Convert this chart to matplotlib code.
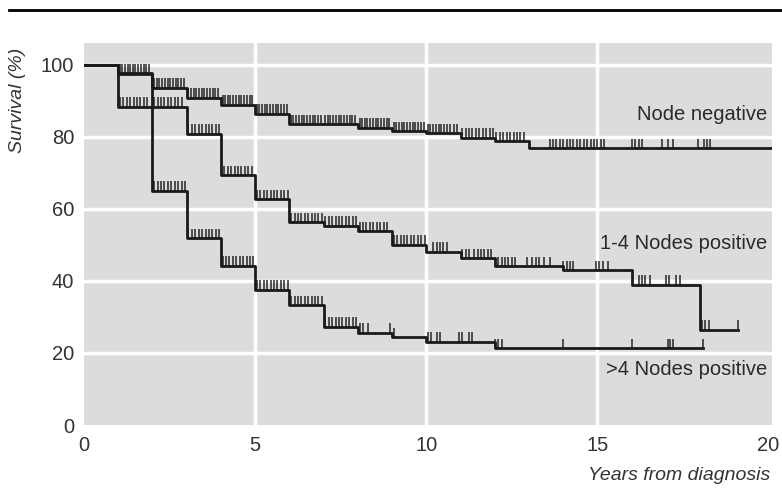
import matplotlib.pyplot as plt
from matplotlib.lines import Line2D
import numpy as np

plt.rcParams['font.family'] = ['Liberation Sans Narrow', 'Liberation Sans', 'DejaVu Sans']

# Kaplan-Meier steps (years, survival %)
neg_t = [0, 1, 2, 3, 4, 5, 6, 8, 9, 10, 11, 12, 13]
neg_s = [100, 97.7, 93.6, 90.8, 88.9, 86.4, 83.4, 82.5, 81.6, 81.0, 79.7, 78.7, 76.8]
neg_end = 20.1

pos14_t = [0, 1, 2, 3, 4, 5, 6, 7, 8, 9, 10, 11, 12, 14, 16, 18]
pos14_s = [100, 97.5, 88.3, 80.8, 69.4, 62.7, 56.2, 55.3, 53.8, 50.0, 48.1, 46.3, 44.0, 42.9, 38.9, 26.4]
pos14_end = 19.1

pos4_t = [0, 1, 2, 3, 4, 5, 6, 7, 8, 9, 10, 12]
pos4_s = [100, 88.3, 65.0, 51.9, 44.2, 37.5, 33.3, 27.3, 25.6, 24.4, 23.1, 21.3]
pos4_end = 18.07

# censored observations (years)
neg_cens = [1.05, 1.12, 1.2, 1.28, 1.35, 1.42, 1.5, 1.58, 1.66, 1.74, 1.82, 1.9,
            2.05, 2.12, 2.2, 2.28, 2.36, 2.44, 2.52, 2.6, 2.68, 2.76, 2.84, 2.92,
            3.05, 3.12, 3.2, 3.28, 3.36, 3.44, 3.52, 3.6, 3.68, 3.76, 3.84, 3.92,
            4.05, 4.12, 4.2, 4.28, 4.36, 4.44, 4.52, 4.6, 4.68, 4.76, 4.84, 4.92,
            5.05, 5.12, 5.2, 5.28, 5.36, 5.44, 5.52, 5.6, 5.68, 5.76, 5.84, 5.92,
            6.05, 6.12, 6.2, 6.28, 6.36, 6.44, 6.52, 6.6, 6.68, 6.76, 6.84, 6.92,
            7.05, 7.12, 7.2, 7.28, 7.36, 7.44, 7.52, 7.6, 7.68, 7.76, 7.84, 7.92,
            8.05, 8.12, 8.2, 8.28, 8.36, 8.44, 8.52, 8.6, 8.68, 8.76, 8.84, 8.92,
            9.05, 9.12, 9.2, 9.28, 9.36, 9.44, 9.52, 9.6, 9.68, 9.76, 9.84, 9.92,
            10.05, 10.12, 10.2, 10.28, 10.36, 10.44, 10.52, 10.6, 10.7, 10.8, 10.9,
            11.05, 11.15, 11.25, 11.35, 11.45, 11.55, 11.65, 11.75, 11.85, 11.95,
            12.05, 12.15, 12.25, 12.35, 12.45, 12.55, 12.65, 12.75, 12.85,
            13.6, 13.7, 13.8, 13.9, 14.0, 14.1, 14.2, 14.3, 14.4, 14.5, 14.6, 14.7,
            14.8, 14.9, 15.0, 15.1, 15.2,
            16.0, 16.1, 16.2, 16.3, 16.9, 17.05, 17.2, 17.95, 18.1, 18.2, 18.3]

pos14_cens = [2.05, 2.15, 2.25, 2.35, 2.45, 2.55, 2.65, 2.75, 2.85,
              3.05, 3.15, 3.25, 3.35, 3.45, 3.55, 3.65, 3.75, 3.85, 3.95,
              4.1, 4.2, 4.3, 4.4, 4.5, 4.6, 4.7, 4.8, 4.9,
              5.05, 5.15, 5.25, 5.35, 5.45, 5.55, 5.65, 5.75, 5.85, 5.95,
              6.05, 6.15, 6.25, 6.35, 6.45, 6.55, 6.65, 6.75, 6.85, 6.95,
              7.05, 7.15, 7.25, 7.35, 7.45, 7.55, 7.65, 7.75, 7.85, 7.95,
              8.05, 8.15, 8.25, 8.35, 8.45, 8.55, 8.65, 8.75, 8.85,
              9.05, 9.15, 9.25, 9.35, 9.45, 9.55, 9.65, 9.75, 9.85, 9.95,
              10.2, 10.3, 10.4, 10.5, 10.6,
              11.05, 11.15, 11.25, 11.4, 11.5, 11.6, 11.7, 11.8, 11.9,
              12.1, 12.2, 12.3, 12.4, 12.5, 12.6, 12.95, 13.1, 13.2, 13.3, 13.45, 13.6,
              14.0, 14.1, 14.2, 14.3, 14.95, 15.05, 15.15, 15.3,
              16.2, 16.3, 16.4, 16.55, 17.0, 17.1, 17.3, 17.4,
              18.05, 18.15, 18.25, 19.1]

pos4_cens = [1.05, 1.15, 1.25, 1.35, 1.45, 1.55, 1.65, 1.75, 1.85,
             2.05, 2.15, 2.25, 2.35, 2.45, 2.55, 2.65, 2.75, 2.85, 2.95,
             3.05, 3.15, 3.25, 3.35, 3.45, 3.55, 3.65, 3.75, 3.85, 3.95,
             4.05, 4.15, 4.25, 4.35, 4.45, 4.55, 4.65, 4.75, 4.85, 4.95,
             5.05, 5.15, 5.25, 5.35, 5.45, 5.55, 5.65, 5.75, 5.85, 5.95,
             6.05, 6.15, 6.25, 6.35, 6.45, 6.55, 6.65, 6.75, 6.85, 6.95,
             7.05, 7.15, 7.25, 7.35, 7.45, 7.55, 7.65, 7.75, 7.85, 7.95,
             8.05, 8.15, 8.3, 8.95, 9.05,
             10.05, 10.15, 10.3, 10.4, 10.95, 11.05, 11.25, 11.35,
             12.0, 12.1, 12.2, 14.0, 16.0, 17.05, 17.12, 17.2, 18.07]

labels = ["Node negative", "1-4 Nodes positive", ">4 Nodes positive"]
label_y = [86.1, 50.5, 15.3]

curves = [(neg_t, neg_s, neg_end, neg_cens),
          (pos14_t, pos14_s, pos14_end, pos14_cens),
          (pos4_t, pos4_s, pos4_end, pos4_cens)]

fig = plt.figure(figsize=(7.82, 4.94), dpi=100)
ax = fig.add_axes([84/782, 69/494, 688/782, 382/494])
ax.set_facecolor('#dcdcdb')
for sp in ax.spines.values():
    sp.set_visible(False)
ax.set_xlim(0, 20.1)
ax.set_ylim(0, 106)

for gx in [5, 10, 15]:
    ax.axvline(gx, color='white', lw=2.5, zorder=0.5)
for gy in [20, 40, 60, 80, 100]:
    ax.axhline(gy, color='white', lw=2.5, zorder=0.5)

for t, s, end, cens in curves:
    ax.step(t + [end], s + [s[-1]], where='post', color='#1a1a1a', lw=2.0, zorder=3)
    idx = np.searchsorted(t, cens, side='right') - 1
    lev = np.array(s)[idx]
    ax.vlines(cens, lev, lev + 2.6, color='#262626', lw=1.1, zorder=2)

for lab, ly in zip(labels, label_y):
    ax.text(19.95, ly, lab, ha='right', va='center', fontsize=14.5, color='#2a2a2a')

ax.set_xticks([0, 5, 10, 15, 20])
ax.set_yticks([0, 20, 40, 60, 80, 100])
ax.tick_params(axis='both', length=0, labelsize=14.5, labelcolor='#333333')
ax.tick_params(axis='x', pad=8)
ax.tick_params(axis='y', pad=7)

fig.text(18/782, 1 - 100/494, "Survival (%)", rotation=90, ha='center', va='center',
         fontsize=14, style='italic', color='#333333')
fig.text(770/782, 1 - 475/494, "Years from diagnosis", ha='right', va='center',
         fontsize=14, style='italic', color='#333333')

fig.add_artist(Line2D([9/782, 1], [1 - 10/494, 1 - 10/494], color='black', lw=2,
                      transform=fig.transFigure))

fig.savefig('out.png', dpi=100)
